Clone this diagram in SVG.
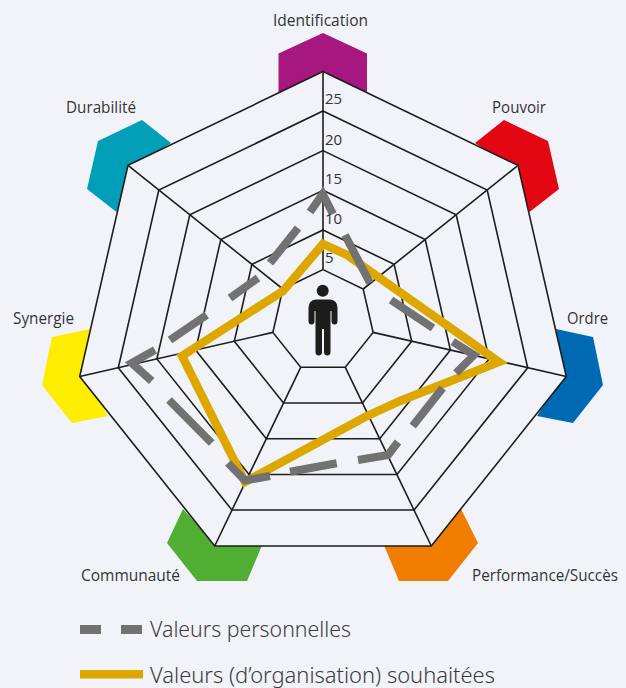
<svg xmlns="http://www.w3.org/2000/svg" width="626" height="688" viewBox="0 0 626 688">
<style>
text{font-family:"Open Sans","Noto Sans","Liberation Sans",sans-serif;fill:#333335}
.lab{font-size:16px}
.num{font-size:15px}
.leg{font-family:"Noto Sans","Open Sans",sans-serif;font-size:21.5px;font-weight:300;fill:#3c3c3e}
.grid{fill:none;stroke:#1d1d1b;stroke-width:1.6;stroke-linejoin:miter}
.gold{fill:none;stroke:#dea700;stroke-width:8.5;stroke-linejoin:miter;stroke-miterlimit:8}
.dash{fill:none;stroke:#727272;stroke-width:8;stroke-linejoin:miter;stroke-miterlimit:8}
</style>
<rect width="626" height="688" fill="#f1f3f9"/>
<g id="node-identification"><polygon fill="#a6187f" points="278.5,53.5 323,33 367,53.5 367,95 323,75 278.5,95"/><text class="lab" x="273" y="26" textLength="95" lengthAdjust="spacingAndGlyphs">Identification</text></g>
<g id="node-pouvoir"><polygon fill="#e30613" points="475,143 504,120 548,141 559,189 529.5,212 515,170"/><text class="lab" x="492" y="113" textLength="54" lengthAdjust="spacingAndGlyphs">Pouvoir</text></g>
<g id="node-ordre"><polygon fill="#0069b4" points="556,329 593,337 603,385 573,423 537,416 562,376"/><text class="lab" x="567" y="324" textLength="41" lengthAdjust="spacingAndGlyphs">Ordre</text></g>
<g id="node-performance"><polygon fill="#f07d00" points="461,509 478,543 448,581 399,581 383,543 431,543"/><text class="lab" x="472" y="581" textLength="146" lengthAdjust="spacingAndGlyphs">Performance/Succès</text></g>
<g id="node-communaute"><polygon fill="#50ae32" points="183,509 167,543 197,581 247,581 263,543 214,543"/><text class="lab" x="81" y="581" textLength="99" lengthAdjust="spacingAndGlyphs">Communauté</text></g>
<g id="node-synergie"><polygon fill="#ffed00" points="90,329 52,337 42,385 72,423 108,416 84,376"/><text class="lab" x="13" y="324" textLength="61" lengthAdjust="spacingAndGlyphs">Synergie</text></g>
<g id="node-durabilite"><polygon fill="#009fb7" points="171,143 142,120 98,141 87,189 116.5,212 131,170"/><text class="lab" x="66" y="113" textLength="70" lengthAdjust="spacingAndGlyphs">Durabilité</text></g>
<g id="connectors">
<g id="grid" class="grid">
<polygon style="fill:#f1f3f9" points="323,71.5 518,165.4 566.3,376.5 431.3,546 214.7,546 79.7,376.5 128,165.4"/>
<polygon points="323,111 487.2,190.1 527.7,367.7 414.1,510 231.9,510 118.3,367.7 158.8,190.1"/>
<polygon points="323,150.6 456.2,214.8 489.1,358.9 397,474.5 249,474.5 156.9,358.9 189.8,214.8"/>
<polygon points="323,190.3 425.2,239.5 450.4,350.1 379.7,438.8 266.3,438.8 195.6,350.1 220.8,239.5"/>
<polygon points="323,230 394.1,264.3 411.7,341.3 362.5,403 283.5,403 234.3,341.3 251.9,264.3"/>
<polygon points="323,269.6 363.2,289 373.1,332.4 345.3,367.3 300.7,367.3 272.9,332.4 282.8,289"/>
<path d="M323,71.5V269.6M518,165.4L363.2,289M566.3,376.5L373.1,332.4M431.3,546L345.3,367.3M214.7,546L300.7,367.3M79.7,376.5L272.9,332.4M128,165.4L282.8,289"/>
</g>
<polygon id="souhaitees" class="gold" points="323,244 347,255 499,362 400,401 365,417 245,482 182,356 230,325 283,291"/>
<g id="personnelles" class="dash">
<path d="M310,212L322.7,194L333,214"/>
<path d="M345,235L370,283"/>
<path d="M391,300L433,328"/>
<path d="M452.7,341.7L474,355L456,373"/>
<path d="M442.7,388L412.7,426"/>
<path d="M398,442L388,455L358,460"/>
<path d="M336.7,463.3L290,471.7"/>
<path d="M270,476L245,480.5L228,463"/>
<path d="M211.7,443L169,400"/>
<path d="M151.7,381L131.7,363L155,350"/>
<path d="M170,340L206.7,315"/>
<path d="M230,298L258,278"/>
<path d="M270,263L298,228"/>
</g>
</g>
<g id="scale">
<text class="num" x="325" y="104">25</text>
<text class="num" x="325" y="145">20</text>
<text class="num" x="325" y="184">15</text>
<text class="num" x="325" y="224">10</text>
<text class="num" x="325" y="263">5</text>
</g>
<g id="person" fill="#1d1d1b">
<circle cx="322.7" cy="290.7" r="6"/>
<path d="M316,299.5H330Q337.5,300 337.5,308V321A3,3.5 0 0 1 331.5,321V311H330.5V352A3,3.2 0 0 1 324,352V329H322V352A3,3.2 0 0 1 315.5,352V311H314.5V321A3,3.5 0 0 1 308.5,321V308Q308.5,300 316,299.5Z"/>
</g>
<g id="legend">
<rect x="80" y="625" width="21" height="9" fill="#727272"/>
<rect x="121" y="625" width="21" height="9" fill="#727272"/>
<text class="leg" x="150" y="637" textLength="201" lengthAdjust="spacingAndGlyphs">Valeurs personnelles</text>
<rect x="80" y="670" width="63" height="8.5" fill="#dea700"/>
<text class="leg" x="150" y="683" textLength="345" lengthAdjust="spacingAndGlyphs">Valeurs (d’organisation) souhaitées</text>
</g>
</svg>
